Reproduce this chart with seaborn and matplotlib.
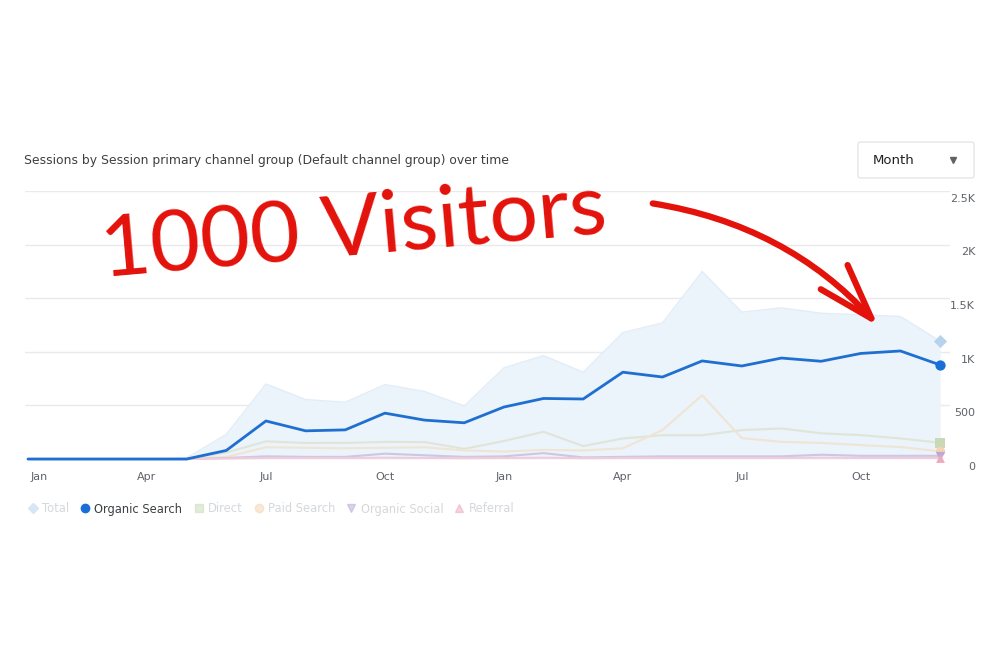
import pandas as pd
import matplotlib.pyplot as plt
import matplotlib.transforms as mtransforms
import seaborn as sns
from matplotlib.lines import Line2D
from matplotlib.patches import FancyBboxPatch

# Dados mensais (2 anos)
months = ['Jan', 'Feb', 'Mar', 'Apr', 'May', 'Jun', 'Jul', 'Aug', 'Sep', 'Oct', 'Nov', 'Dec'] * 2
total = [0, 0, 0, 0, 10, 230, 700, 555, 530, 695, 630, 495,
         850, 965, 810, 1180, 1270, 1750, 1370, 1410, 1360, 1345, 1330, 1100]
organic_search = [0, 0, 0, 0, 0, 80, 355, 263, 272, 428, 363, 338,
                  485, 565, 560, 810, 765, 915, 868, 942, 912, 985, 1008, 878]
direct = [0, 0, 0, 0, 0, 60, 165, 150, 150, 160, 158, 95,
          168, 254, 121, 192, 222, 222, 270, 285, 240, 223, 192, 152]
paid_search = [0, 0, 0, 0, 0, 20, 110, 105, 100, 105, 110, 80,
               70, 85, 80, 100, 270, 595, 195, 160, 150, 130, 112, 72]
organic_social = [0, 0, 0, 0, 0, 10, 25, 20, 20, 50, 35, 20,
                  25, 55, 15, 20, 25, 25, 25, 25, 40, 30, 30, 30]
referral = [0, 0, 0, 0, 0, 5, 10, 10, 10, 12, 10, 8,
            10, 12, 8, 10, 10, 10, 10, 10, 12, 10, 10, 10]

tick_pos = [0, 3, 6, 9, 12, 15, 18, 21]
y_ticks = [0, 500, 1000, 1500, 2000, 2500]
y_labels = ['0', '500', '1K', '1.5K', '2K', '2.5K']

df = pd.DataFrame({'idx': range(len(months)), 'Mes': months, 'Total': total,
                   'Organic Search': organic_search, 'Direct': direct,
                   'Paid Search': paid_search, 'Organic Social': organic_social,
                   'Referral': referral})

sns.set_theme(style="white")
plt.rcParams['font.family'] = ['DejaVu Sans']

fig = plt.figure(figsize=(10, 6.67), dpi=100)
ax = fig.add_axes([0.025, 0.3118, 0.925, 0.4018])

# --- Área do total ---
ax.fill_between(df['idx'], 0, df['Total'], color='#ebf3fb', lw=0, zorder=1)
sns.lineplot(x='idx', y='Total', data=df, color='#e2edf8', linewidth=1, ax=ax, zorder=2)

# --- Canais secundários (esmaecidos) ---
faded = {'Direct': '#e0e5d8', 'Paid Search': '#f0e4d4',
         'Organic Social': '#cdc6e4', 'Referral': '#f2cbd8'}
for col, c in faded.items():
    sns.lineplot(x='idx', y=col, data=df, color=c, linewidth=1.5, ax=ax, zorder=3)

# --- Organic Search em destaque ---
sns.lineplot(x='idx', y='Organic Search', data=df, color='#1f6fd1', linewidth=2, ax=ax, zorder=5)

# marcadores no último ponto
last = df.iloc[-1]
end_markers = [('Total', 'D', '#b7d3ec', 45), ('Organic Search', 'o', '#1a6fd6', 55),
               ('Direct', 's', '#c9d8b6', 55), ('Paid Search', 'o', '#f6d2ae', 45),
               ('Organic Social', 'v', '#b9a8d8', 45), ('Referral', '^', '#eea8bf', 40)]
for col, m, c, s in end_markers:
    ax.scatter(last['idx'], last[col], marker=m, color=c, s=s, zorder=6, clip_on=False, linewidths=0)

for line in ax.lines:
    line.set_clip_on(False)

ax.set_xlim(-0.076, 23.25)
ax.set_ylim(0, 2500)
ax.set_xticks(tick_pos)
ax.set_xticklabels([months[i] for i in tick_pos])
ax.set_yticks(y_ticks)
ax.set_yticklabels(y_labels)
ax.yaxis.tick_right()
ax.set_xlabel('')
ax.set_ylabel('')
ax.tick_params(axis='x', length=0, pad=9, labelsize=8, labelcolor='#5f6368')
ax.tick_params(axis='y', length=0, pad=18, labelsize=8, labelcolor='#5f6368')
offset = mtransforms.ScaledTranslation(0, -2 / 72, fig.dpi_scale_trans)
for lbl in ax.get_yticklabels():
    lbl.set_horizontalalignment('right')
    lbl.set_verticalalignment('top')
    lbl.set_transform(lbl.get_transform() + offset)
# primeiro "Jan" fica um pouco deslocado para a direita
first = ax.get_xticklabels()[0]
first.set_transform(first.get_transform() + mtransforms.ScaledTranslation(8 / 72, 0, fig.dpi_scale_trans))

ax.grid(axis='y', color='#e8eaed', linewidth=1)
ax.grid(axis='x', visible=False)
sns.despine(ax=ax, left=True, bottom=True, right=True, top=True)

# --- Título e seletor "Month" ---
fig.text(0.024, (667 - 160) / 667, 'Sessions by Session primary channel group (Default channel group) over time',
         fontsize=8.95, color='#3c4043', va='center')
box = FancyBboxPatch((0.858, (667 - 178) / 667), 0.116, 36 / 667,
                     boxstyle='round,pad=0,rounding_size=0.003', transform=fig.transFigure,
                     fc='white', ec='#e6e6e6', lw=1)
fig.add_artist(box)
fig.text(0.873, (667 - 160) / 667, 'Month', fontsize=9.5, color='#202124', va='center')
fig.add_artist(Line2D([0.953], [(667 - 160) / 667], marker='v', ms=5, color='#5f6368',
                      transform=fig.transFigure))

# --- Legenda ---
handles = [Line2D([], [], marker=m, ls='', color=c, ms=6 if m != 'D' else 5, label=col)
           for col, m, c, s in end_markers]
handles[0].set_color('#d6e6f5')
for h in handles[2:]:
    h.set_alpha(0.5)
leg = ax.legend(handles=handles, loc='center left', bbox_to_anchor=(0.027, (667 - 509) / 667),
                bbox_transform=fig.transFigure, ncol=6, frameon=False, fontsize=8.3,
                handletextpad=0.3, columnspacing=0.9, handlelength=1, borderpad=0, borderaxespad=0)
for i, t in enumerate(leg.get_texts()):
    t.set_color('#3c4043' if i == 1 else '#d5d8db')

# --- Anotação à mão ---
fig.text(0.103, (667 - 277) / 667, '1000 Visitors', fontsize=62, color='#e3120b',
         family=['Lato', 'DejaVu Sans'], fontweight='normal',
         rotation=5, rotation_mode='anchor', ha='left', va='baseline')
ax.annotate('', xy=(0.880, (667 - 328) / 667), xytext=(0.650, (667 - 203) / 667),
            xycoords='figure fraction', textcoords='figure fraction',
            arrowprops=dict(arrowstyle='->,head_length=2.0,head_width=0.65', mutation_scale=20,
                            color='#e3120b', lw=4.5, connectionstyle='arc3,rad=-0.18',
                            capstyle='round'))

plt.savefig('out.png', dpi=100)
